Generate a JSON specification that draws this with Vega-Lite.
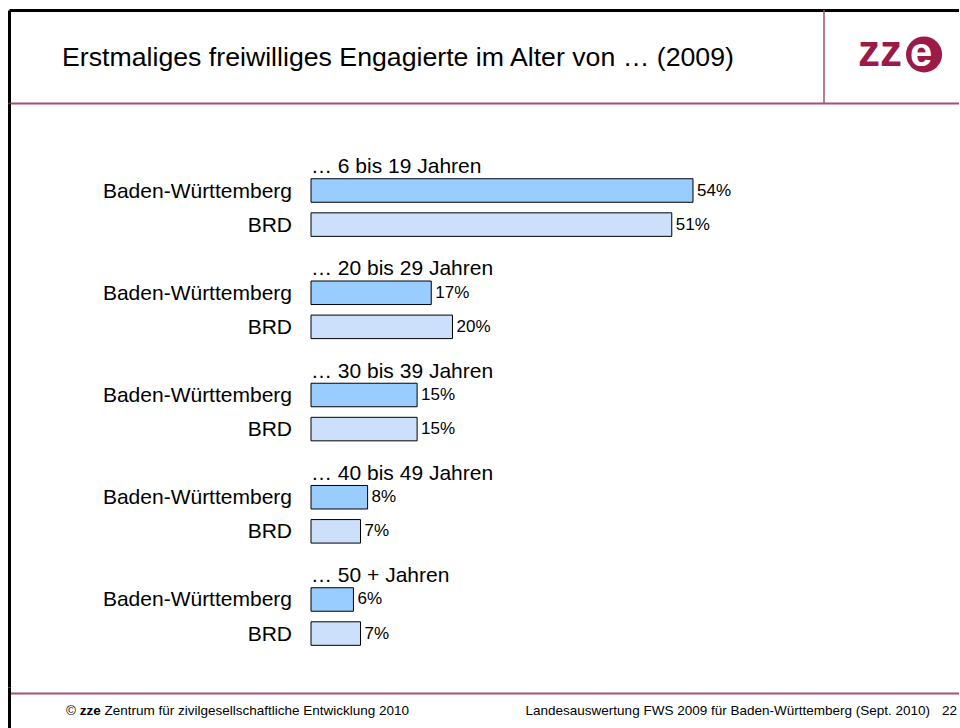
{
  "$schema": "https://vega.github.io/schema/vega-lite/v6.json",
  "background": "white",
  "padding": {"left": 9, "top": 9, "right": 0, "bottom": 0},
  "bounds": "flush",
  "spacing": 0,
  "config": {
    "view": {"stroke": null},
    "font": "Liberation Sans",
    "text": {"font": "Liberation Sans"},
    "axis": {"minExtent": 0, "maxExtent": 0, "labels": false, "ticks": false, "grid": false, "title": null, "domain": true}
  },
  "datasets": {
    "rows": [
      {"row": "… 6 bis 19 Jahren", "kind": "header", "label": "… 6 bis 19 Jahren", "share": null},
      {"row": "6 bis 19 Jahren – Baden-Württemberg", "kind": "bar", "label": "Baden-Württemberg", "share": 0.54},
      {"row": "6 bis 19 Jahren – BRD", "kind": "bar", "label": "BRD", "share": 0.51},
      {"row": "… 20 bis 29 Jahren", "kind": "header", "label": "… 20 bis 29 Jahren", "share": null},
      {"row": "20 bis 29 Jahren – Baden-Württemberg", "kind": "bar", "label": "Baden-Württemberg", "share": 0.17},
      {"row": "20 bis 29 Jahren – BRD", "kind": "bar", "label": "BRD", "share": 0.20},
      {"row": "… 30 bis 39 Jahren", "kind": "header", "label": "… 30 bis 39 Jahren", "share": null},
      {"row": "30 bis 39 Jahren – Baden-Württemberg", "kind": "bar", "label": "Baden-Württemberg", "share": 0.15},
      {"row": "30 bis 39 Jahren – BRD", "kind": "bar", "label": "BRD", "share": 0.15},
      {"row": "… 40 bis 49 Jahren", "kind": "header", "label": "… 40 bis 49 Jahren", "share": null},
      {"row": "40 bis 49 Jahren – Baden-Württemberg", "kind": "bar", "label": "Baden-Württemberg", "share": 0.08},
      {"row": "40 bis 49 Jahren – BRD", "kind": "bar", "label": "BRD", "share": 0.07},
      {"row": "… 50 + Jahren", "kind": "header", "label": "… 50 + Jahren", "share": null},
      {"row": "50 + Jahren – Baden-Württemberg", "kind": "bar", "label": "Baden-Württemberg", "share": 0.06},
      {"row": "50 + Jahren – BRD", "kind": "bar", "label": "BRD", "share": 0.07}
    ]
  },
  "vconcat": [
    {
      "width": 950,
      "height": 93,
      "data": {"values": [{"t": "Erstmaliges freiwilliges Engagierte im Alter von … (2009)", "a": "zz", "b": "e"}]},
      "layer": [
        {
          "mark": {"type": "text", "align": "left", "baseline": "alphabetic", "fontSize": 26.7, "color": "#000000"},
          "encoding": {
            "x": {"datum": 0.0558, "type": "quantitative", "scale": {"domain": [0, 1], "nice": false, "zero": false},
                  "axis": {"orient": "top", "domainColor": "#000000", "domainWidth": 3, "labels": false, "ticks": false, "grid": false, "title": null}},
            "y": {"datum": 0.398, "type": "quantitative", "scale": {"domain": [0, 1], "nice": false, "zero": false},
                  "axis": {"orient": "left", "domainColor": "#000000", "domainWidth": 3, "labels": false, "ticks": false, "grid": false, "title": null}},
            "text": {"field": "t"}
          }
        },
        {
          "mark": {"type": "rule", "color": "#A8506E", "strokeWidth": 1.5},
          "encoding": {
            "x": {"datum": 0.8579, "type": "quantitative",
                  "axis": {"orient": "top", "domainColor": "#000000", "domainWidth": 3, "labels": false, "ticks": false, "grid": false, "title": null}}
          }
        },
        {
          "mark": {"type": "text", "align": "right", "baseline": "alphabetic", "fontSize": 44, "fontWeight": "bold", "color": "#9C1A47"},
          "encoding": {
            "x": {"datum": 0.94, "type": "quantitative",
                  "axis": {"orient": "top", "domainColor": "#000000", "domainWidth": 3, "labels": false, "ticks": false, "grid": false, "title": null}},
            "y": {"datum": 0.398, "type": "quantitative",
                  "axis": {"orient": "left", "domainColor": "#000000", "domainWidth": 3, "labels": false, "ticks": false, "grid": false, "title": null}},
            "text": {"field": "a"}
          }
        },
        {
          "mark": {"type": "point", "shape": "circle", "filled": true, "size": 1300, "color": "#9C1A47", "opacity": 1},
          "encoding": {
            "x": {"datum": 0.9632, "type": "quantitative",
                  "axis": {"orient": "top", "domainColor": "#000000", "domainWidth": 3, "labels": false, "ticks": false, "grid": false, "title": null}},
            "y": {"datum": 0.522, "type": "quantitative",
                  "axis": {"orient": "left", "domainColor": "#000000", "domainWidth": 3, "labels": false, "ticks": false, "grid": false, "title": null}}
          }
        },
        {
          "mark": {"type": "text", "align": "center", "baseline": "alphabetic", "fontSize": 40, "fontWeight": "bold", "color": "#FFFFFF"},
          "encoding": {
            "x": {"datum": 0.96, "type": "quantitative",
                  "axis": {"orient": "top", "domainColor": "#000000", "domainWidth": 3, "labels": false, "ticks": false, "grid": false, "title": null}},
            "y": {"datum": 0.398, "type": "quantitative",
                  "axis": {"orient": "left", "domainColor": "#000000", "domainWidth": 3, "labels": false, "ticks": false, "grid": false, "title": null}},
            "text": {"field": "b"}
          }
        }
      ]
    },
    {
      "width": 950,
      "height": 584,
      "data": {"name": "rows"},
      "encoding": {
        "y": {
          "field": "row", "type": "nominal", "sort": null,
          "scale": {
            "domain": [
              "(Abstand oben)",
              "… 6 bis 19 Jahren", "6 bis 19 Jahren – Baden-Württemberg", "6 bis 19 Jahren – BRD",
              "… 20 bis 29 Jahren", "20 bis 29 Jahren – Baden-Württemberg", "20 bis 29 Jahren – BRD",
              "… 30 bis 39 Jahren", "30 bis 39 Jahren – Baden-Württemberg", "30 bis 39 Jahren – BRD",
              "… 40 bis 49 Jahren", "40 bis 49 Jahren – Baden-Württemberg", "40 bis 49 Jahren – BRD",
              "… 50 + Jahren", "50 + Jahren – Baden-Württemberg", "50 + Jahren – BRD",
              "(Abstand unten)"
            ],
            "paddingInner": 0.31, "paddingOuter": 0.223
          },
          "axis": {"orient": "left", "domainColor": "#000000", "domainWidth": 3, "labels": false, "ticks": false, "grid": false, "title": null}
        }
      },
      "resolve": {"axis": {"x": "independent"}},
      "layer": [
        {
          "transform": [{"filter": "datum.kind === 'bar'"}],
          "mark": {"type": "bar", "stroke": "#000000", "strokeWidth": 1},
          "encoding": {
            "x": {"field": "share", "type": "quantitative",
                  "scale": {"domain": [-0.42692, 0.91603], "nice": false, "zero": false},
                  "axis": {"orient": "top", "domainColor": "#A8506E", "domainWidth": 2, "labels": false, "ticks": false, "grid": false, "title": null}},
            "color": {"field": "label", "type": "nominal",
                      "scale": {"domain": ["Baden-Württemberg", "BRD"], "range": ["#99CCFF", "#CCDFFB"]},
                      "legend": null}
          }
        },
        {
          "transform": [{"filter": "datum.kind === 'bar'"}],
          "mark": {"type": "text", "align": "left", "baseline": "middle", "dx": 4, "fontSize": 17, "color": "#000000"},
          "encoding": {
            "x": {"field": "share", "type": "quantitative",
                  "axis": {"orient": "bottom", "offset": 6, "domainColor": "#A8506E", "domainWidth": 2, "labels": false, "ticks": false, "grid": false, "title": null}},
            "text": {"field": "share", "type": "quantitative", "format": ".0%"}
          }
        },
        {
          "transform": [{"filter": "datum.kind === 'bar'"}],
          "mark": {"type": "text", "align": "right", "baseline": "middle", "dx": -19, "dy": 1, "fontSize": 21, "color": "#000000"},
          "encoding": {
            "x": {"datum": 0, "type": "quantitative", "axis": null},
            "text": {"field": "label"}
          }
        },
        {
          "transform": [{"filter": "datum.kind === 'header'"}],
          "mark": {"type": "text", "align": "left", "baseline": "alphabetic", "dy": 16.6, "fontSize": 21, "color": "#000000"},
          "encoding": {
            "x": {"datum": 0, "type": "quantitative", "axis": null},
            "text": {"field": "label"}
          }
        }
      ]
    },
    {
      "width": 950,
      "height": 42,
      "data": {"values": [{"c": "©", "z": "zze", "l": "Zentrum für zivilgesellschaftliche Entwicklung 2010", "r": "Landesauswertung FWS 2009 für Baden-Württemberg (Sept. 2010)", "p": "22"}]},
      "layer": [
        {
          "mark": {"type": "text", "align": "left", "baseline": "middle", "fontSize": 13.5, "color": "#000000"},
          "encoding": {
            "x": {"datum": 0.06, "type": "quantitative", "scale": {"domain": [0, 1], "nice": false, "zero": false}, "axis": null},
            "y": {"datum": 0.4286, "type": "quantitative", "scale": {"domain": [0, 1], "nice": false, "zero": false},
                  "axis": {"orient": "left", "domainColor": "#000000", "domainWidth": 3, "labels": false, "ticks": false, "grid": false, "title": null}},
            "text": {"field": "c"}
          }
        },
        {
          "mark": {"type": "text", "align": "left", "baseline": "middle", "fontSize": 13.5, "fontWeight": "bold", "color": "#000000"},
          "encoding": {
            "x": {"datum": 0.0744, "type": "quantitative", "axis": null},
            "y": {"datum": 0.4286, "type": "quantitative",
                  "axis": {"orient": "left", "domainColor": "#000000", "domainWidth": 3, "labels": false, "ticks": false, "grid": false, "title": null}},
            "text": {"field": "z"}
          }
        },
        {
          "mark": {"type": "text", "align": "left", "baseline": "middle", "fontSize": 13.5, "color": "#000000"},
          "encoding": {
            "x": {"datum": 0.1005, "type": "quantitative", "axis": null},
            "y": {"datum": 0.4286, "type": "quantitative",
                  "axis": {"orient": "left", "domainColor": "#000000", "domainWidth": 3, "labels": false, "ticks": false, "grid": false, "title": null}},
            "text": {"field": "l"}
          }
        },
        {
          "mark": {"type": "text", "align": "right", "baseline": "middle", "fontSize": 13.5, "color": "#000000"},
          "encoding": {
            "x": {"datum": 0.9695, "type": "quantitative", "axis": null},
            "y": {"datum": 0.4286, "type": "quantitative",
                  "axis": {"orient": "left", "domainColor": "#000000", "domainWidth": 3, "labels": false, "ticks": false, "grid": false, "title": null}},
            "text": {"field": "r"}
          }
        },
        {
          "mark": {"type": "text", "align": "right", "baseline": "middle", "fontSize": 13.5, "color": "#000000"},
          "encoding": {
            "x": {"datum": 0.9979, "type": "quantitative", "axis": null},
            "y": {"datum": 0.4286, "type": "quantitative",
                  "axis": {"orient": "left", "domainColor": "#000000", "domainWidth": 3, "labels": false, "ticks": false, "grid": false, "title": null}},
            "text": {"field": "p"}
          }
        }
      ]
    }
  ]
}
